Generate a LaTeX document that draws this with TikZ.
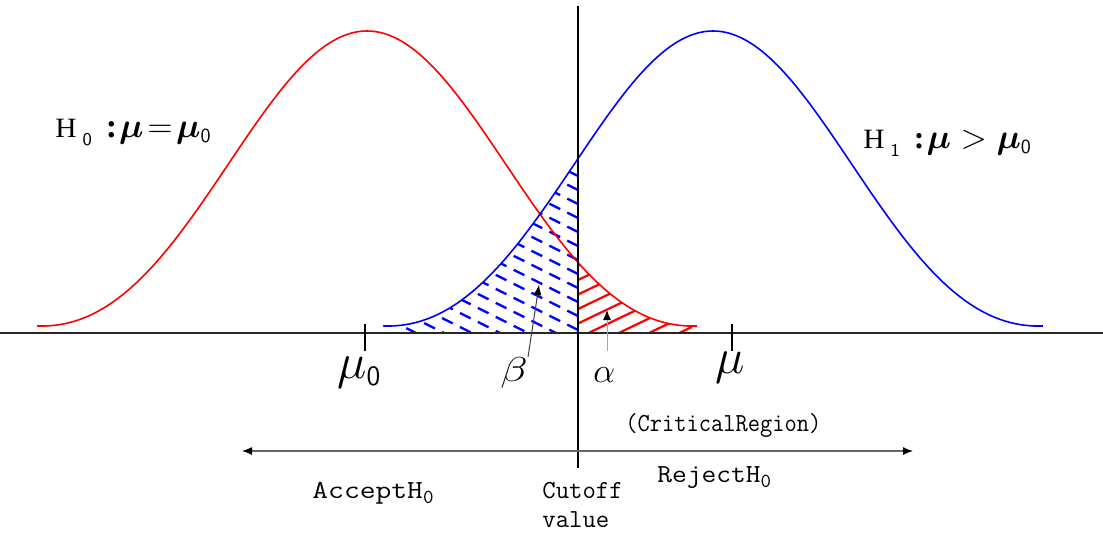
\documentclass[tikz,border=0pt]{standalone}
\usepackage{amsmath}
\usepackage{bm}
\usepackage{graphicx}
\usepackage{fontspec}
\setmainfont{Liberation Serif}
\usetikzlibrary{arrows.meta}
\begin{document}
\begin{tikzpicture}[x=0.5pt,y=-0.5pt,
  declare function={bell(\u)=326-433.8*(exp(-((\u)*(\u))/4.5)-0.3200+0.02124*((\u)*(\u)));},
  curve/.style={line width=0.8pt},
  bhatch/.style={blue, line width=1.2pt, dash pattern=on 6pt off 4pt},
  rhatch/.style={red, line width=1.1pt},
  ptr/.style={-{Latex[length=5pt,width=4pt,color=black]}, line width=0.5pt},
  mono/.style={font=\fontsize{13}{14.5}\selectfont\ttfamily, inner sep=0},
  lab/.style={anchor=base west, inner sep=0},
]
\useasboundingbox (0,0) rectangle (1103,532);

% hatching (beta region)
\begin{scope}
  \clip plot[domain=-3.25:-1.35,samples=60,variable=\u] ({713+100*\u},{bell(\u)}) -- (578,333) -- (388,333) -- cycle;
  \foreach \c in {176,190,...,428} \draw[bhatch] (578,\c) -- ++(-240,-120);
\end{scope}
% hatching (alpha region)
\begin{scope}
  \clip plot[domain=2.11:3.25,samples=40,variable=\u] ({367+100*\u},{bell(\u)}) -- (692,333) -- (578,333) -- cycle;
  \foreach \c in {265.5,280,...,382} \draw[rhatch] (578,\c) -- ++(240,-115);
\end{scope}

% curves
\draw[curve, red]  plot[domain=-3.3:3.3,samples=141,variable=\u] ({367+100*\u},{bell(\u)});
\draw[curve, blue] plot[domain=-3.3:3.3,samples=141,variable=\u] ({713+100*\u},{bell(\u)});

% axes
\coordinate (axL) at (0,333);
\coordinate (axR) at (1103,333);
\coordinate (cutT) at (578,6);
\coordinate (cutB) at (578,468);
\draw[line width=0.75pt, black!85] (axL) -- (axR);
\draw[line width=0.6pt] (cutT) -- (cutB);

% ticks
\coordinate (t0a) at (365,324); \coordinate (t0b) at (365,351);
\coordinate (t1a) at (732,324); \coordinate (t1b) at (732,351);
\draw[line width=1.3pt] (t0a) -- (t0b);
\draw[line width=0.7pt] (t1a) -- (t1b);

% hypotheses
\node[lab] (h0) at (55,137) {{\fontsize{14}{16}\selectfont\scalebox{1.05}[1]{H}}\kern3pt\raisebox{-4pt}{\fontsize{9}{10}\sffamily\selectfont 0}\kern7pt{\fontsize{17}{20}\selectfont\textbf{:}\kern1pt$\boldsymbol{\mu}\!=\!\boldsymbol{\mu}_{\text{\fontsize{10}{10}\selectfont\sffamily 0}}$}};
\node[lab] (h1) at (863,148) {{\fontsize{14}{16}\selectfont\scalebox{1.05}[1]{H}}\kern3pt\raisebox{-4pt}{\fontsize{9}{10}\sffamily\selectfont 1}\kern7pt{\fontsize{16}{20}\selectfont\textbf{:}\kern1pt$\boldsymbol{\mu}>\boldsymbol{\mu}_{\text{\fontsize{10}{10}\selectfont\sffamily 0}}$}};

% axis labels
\node[lab] (mu0) at (337,378) {\fontsize{25}{30}\selectfont$\mu_{\text{\fontsize{14}{14}\selectfont\sffamily 0}}$};
\node[lab] (beta) at (500,381) {\fontsize{17}{20}\selectfont\scalebox{1.3}[1]{$\beta$}};
\node[lab] (alpha) at (593,382) {\fontsize{19}{22}\selectfont$\alpha$};
\node[lab] (mu) at (715,373) {\fontsize{24}{28}\selectfont$\mu$};

% pointers
\coordinate (bTail) at (528,357); \coordinate (bTip) at (539,285);
\coordinate (aTail) at (607,351); \coordinate (aTip) at (607,310);
\draw[ptr, draw=black!75] (bTail) -- (bTip);
\draw[ptr, draw=black!35] (aTail) -- (aTip);

% regions
\coordinate (dL) at (242,451); \coordinate (dR) at (913,451);
\draw[{Latex[length=5pt,width=4pt,color=black]}-{Latex[length=5pt,width=4pt,color=black]}, line width=0.6pt, black!60] (dL) -- (dR);

\node[mono, anchor=base west] (crit) at (625,431) {\scalebox{0.915}[1]{(CriticalRegion)}};
\node[mono, anchor=base west] (rej) at (657,482) {\scalebox{1.1}[1]{RejectH}\raisebox{-2.5pt}{\fontsize{10}{10}\selectfont 0}};
\node[mono, anchor=base west] (acc) at (312,498) {\scalebox{1.18}[1]{AcceptH}\raisebox{-2.5pt}{\fontsize{10}{10}\selectfont 0}};
\node[mono, anchor=north west, align=left] (cut) at (542,482) {\scalebox{1.0}[1]{Cutoff}\\\scalebox{1.0}[1]{value}};
\end{tikzpicture}
\end{document}
